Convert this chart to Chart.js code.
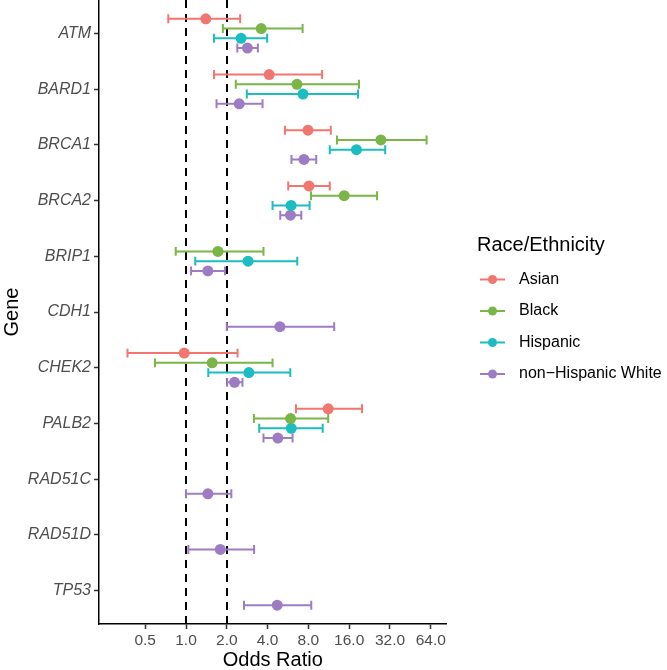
<!DOCTYPE html>
<html>
<head>
<meta charset="utf-8">
<script src="https://cdn.jsdelivr.net/npm/chart.js@4"></script>
<style>
  html, body { margin: 0; padding: 0; background: #fff; }
  #wrap { width: 667px; height: 670px; }
</style>
</head>
<body>
<div id="wrap"><canvas id="forestChart" width="667" height="670"></canvas></div>
<script>
// genes on the y axis, top to bottom
const genes = ['ATM', 'BARD1', 'BRCA1', 'BRCA2', 'BRIP1', 'CDH1', 'CHEK2', 'PALB2', 'RAD51C', 'RAD51D', 'TP53'];

// odds ratios with 95% CI (null = not estimated)
const asianOR = [1.40, 4.11, 7.94, 8.08, null, null, 0.97, 11.2, null, null, null];
const asianLo = [0.74, 1.61, 5.37, 5.68, null, null, 0.37, 6.48, null, null, null];
const asianHi = [2.51, 10.1, 11.7, 11.5, null, null, 2.40, 19.9, null, null, null];

const blackOR = [3.59, 6.59, 27.4, 14.7, 1.72, null, 1.56, 5.91, null, null, null];
const blackLo = [1.87, 2.33, 13.0, 8.36, 0.84, null, 0.59, 3.17, null, null, null];
const blackHi = [7.25, 18.9, 59.6, 25.7, 3.73, null, 4.35, 11.2, null, null, null];

const hispanicOR = [2.55, 7.30, 18.1, 5.96, 2.87, null, 2.91, 5.98, null, null, null];
const hispanicLo = [1.61, 2.81, 11.5, 4.35, 1.17, null, 1.46, 3.47, null, null, null];
const hispanicHi = [3.97, 18.6, 29.5, 8.17, 6.62, null, 5.88, 10.2, null, null, null];

const whiteOR = [2.84, 2.47, 7.42, 5.90, 1.45, 4.93, 2.28, 4.76, 1.45, 1.79, 4.71];
const whiteLo = [2.39, 1.68, 6.00, 4.96, 1.09, 2.00, 2.01, 3.73, 1.00, 1.04, 2.68];
const whiteHi = [3.39, 3.67, 9.14, 7.09, 1.94, 12.4, 2.61, 6.11, 2.16, 3.18, 8.40];

const xTicks = [0.5, 1, 2, 4, 8, 16, 32, 64];
const xTickLabels = ['0.5', '1.0', '2.0', '4.0', '8.0', '16.0', '32.0', '64.0'];
const refLines = [1, 2];

const FONT = "'Liberation Sans', Arial, sans-serif";

// position_dodge(width = 0.7) style offsets
const groups = [
  { label: 'Asian', color: '#F1766F', or: asianOR, lo: asianLo, hi: asianHi, offset: -0.2625 },
  { label: 'Black', color: '#7AB547', or: blackOR, lo: blackLo, hi: blackHi, offset: -0.0875 },
  { label: 'Hispanic', color: '#1CBDC2', or: hispanicOR, lo: hispanicLo, hi: hispanicHi, offset: 0.0875 },
  { label: 'non\u2212Hispanic White', color: '#9E7CC4', or: whiteOR, lo: whiteLo, hi: whiteHi, offset: 0.2625 }
];

const datasets = groups.map(g => ({
  label: g.label,
  data: genes.map((_, i) => g.or[i] == null ? null : { x: g.or[i], y: i + g.offset, lo: g.lo[i], hi: g.hi[i] })
    .filter(p => p !== null),
  backgroundColor: g.color,
  borderColor: g.color,
  borderWidth: 0,
  pointRadius: 5.5,
  pointHoverRadius: 5.5
}));

// dashed reference lines + error bars, under the points
const errorBarPlugin = {
  id: 'errorBars',
  beforeDatasetsDraw(chart) {
    const { ctx, chartArea, scales: { x, y } } = chart;
    ctx.save();
    ctx.strokeStyle = '#000';
    ctx.lineWidth = 2;
    ctx.setLineDash([8, 6]);
    refLines.forEach(v => {
      const px = Math.round(x.getPixelForValue(v));
      ctx.beginPath();
      ctx.moveTo(px, chartArea.top);
      ctx.lineTo(px, chartArea.bottom);
      ctx.stroke();
    });
    ctx.setLineDash([]);
    ctx.lineWidth = 2;
    chart.data.datasets.forEach(ds => {
      ctx.strokeStyle = ds.borderColor;
      ds.data.forEach(p => {
        const py = y.getPixelForValue(p.y);
        const cap = Math.abs(y.getPixelForValue(p.y + 0.08) - py);
        const x0 = x.getPixelForValue(p.lo);
        const x1 = x.getPixelForValue(p.hi);
        ctx.beginPath();
        ctx.moveTo(x0, py);
        ctx.lineTo(x1, py);
        ctx.moveTo(x0, py - cap);
        ctx.lineTo(x0, py + cap);
        ctx.moveTo(x1, py - cap);
        ctx.lineTo(x1, py + cap);
        ctx.stroke();
      });
    });
    ctx.restore();
  }
};

// ggplot-like legend on the right
const legendPlugin = {
  id: 'sideLegend',
  afterDraw(chart) {
    const ctx = chart.ctx;
    ctx.save();
    ctx.textBaseline = 'middle';
    ctx.textAlign = 'left';
    ctx.fillStyle = '#000';
    ctx.font = '20px ' + FONT;
    ctx.fillText('Race/Ethnicity', 477, 245);
    ctx.font = '16px ' + FONT;
    chart.data.datasets.forEach((ds, i) => {
      const cy = 279.5 + i * 31.5;
      ctx.strokeStyle = ds.borderColor;
      ctx.lineWidth = 2;
      ctx.beginPath();
      ctx.moveTo(480, cy);
      ctx.lineTo(505, cy);
      ctx.stroke();
      ctx.fillStyle = ds.backgroundColor;
      ctx.beginPath();
      ctx.arc(492.5, cy, 4.5, 0, Math.PI * 2);
      ctx.fill();
      ctx.fillStyle = '#000';
      ctx.fillText(ds.label, 519, cy);
    });
    ctx.restore();
  }
};

new Chart(document.getElementById('forestChart'), {
  type: 'scatter',
  data: { datasets },
  plugins: [errorBarPlugin, legendPlugin],
  options: {
    responsive: false,
    animation: false,
    layout: { autoPadding: false, padding: { left: 0, right: 220.5, top: 0, bottom: 0 } },
    plugins: {
      legend: { display: false },
      tooltip: { enabled: false }
    },
    scales: {
      x: {
        type: 'logarithmic',
        min: 0.228,
        max: 83.6,
        afterBuildTicks: scale => { scale.ticks = xTicks.map(v => ({ value: v })); },
        afterFit: scale => { scale.height = 46; scale.paddingLeft = 0; scale.paddingRight = 0; },
        border: { display: true, color: '#000', width: 1.5 },
        grid: { drawOnChartArea: false, drawTicks: true, tickLength: 5, tickColor: '#333', tickWidth: 1.5 },
        ticks: {
          autoSkip: false,
          maxRotation: 0,
          padding: 2,
          color: '#4D4D4D',
          font: { family: FONT, size: 15.5 },
          callback: v => xTickLabels[xTicks.indexOf(v)]
        },
        title: {
          display: true,
          text: 'Odds Ratio',
          color: '#000',
          font: { family: FONT, size: 20, lineHeight: 1 },
          padding: { top: 0, bottom: 0 }
        }
      },
      y: {
        type: 'linear',
        reverse: true,
        min: -0.6,
        max: 10.6,
        afterBuildTicks: scale => { scale.ticks = genes.map((_, i) => ({ value: i })); },
        afterFit: scale => { scale.width = 99; scale.paddingTop = 0; scale.paddingBottom = 0; },
        border: { display: true, color: '#000', width: 1.5 },
        grid: { drawOnChartArea: false, drawTicks: true, tickLength: 5, tickColor: '#333', tickWidth: 1.5 },
        ticks: {
          autoSkip: false,
          padding: 3,
          color: '#4D4D4D',
          font: { family: FONT, size: 16, style: 'italic' },
          callback: v => genes[v]
        },
        title: {
          display: true,
          text: 'Gene',
          color: '#000',
          font: { family: FONT, size: 20, lineHeight: 1 },
          padding: { top: 2, bottom: 0 }
        }
      }
    }
  }
});
</script>
</body>
</html>
